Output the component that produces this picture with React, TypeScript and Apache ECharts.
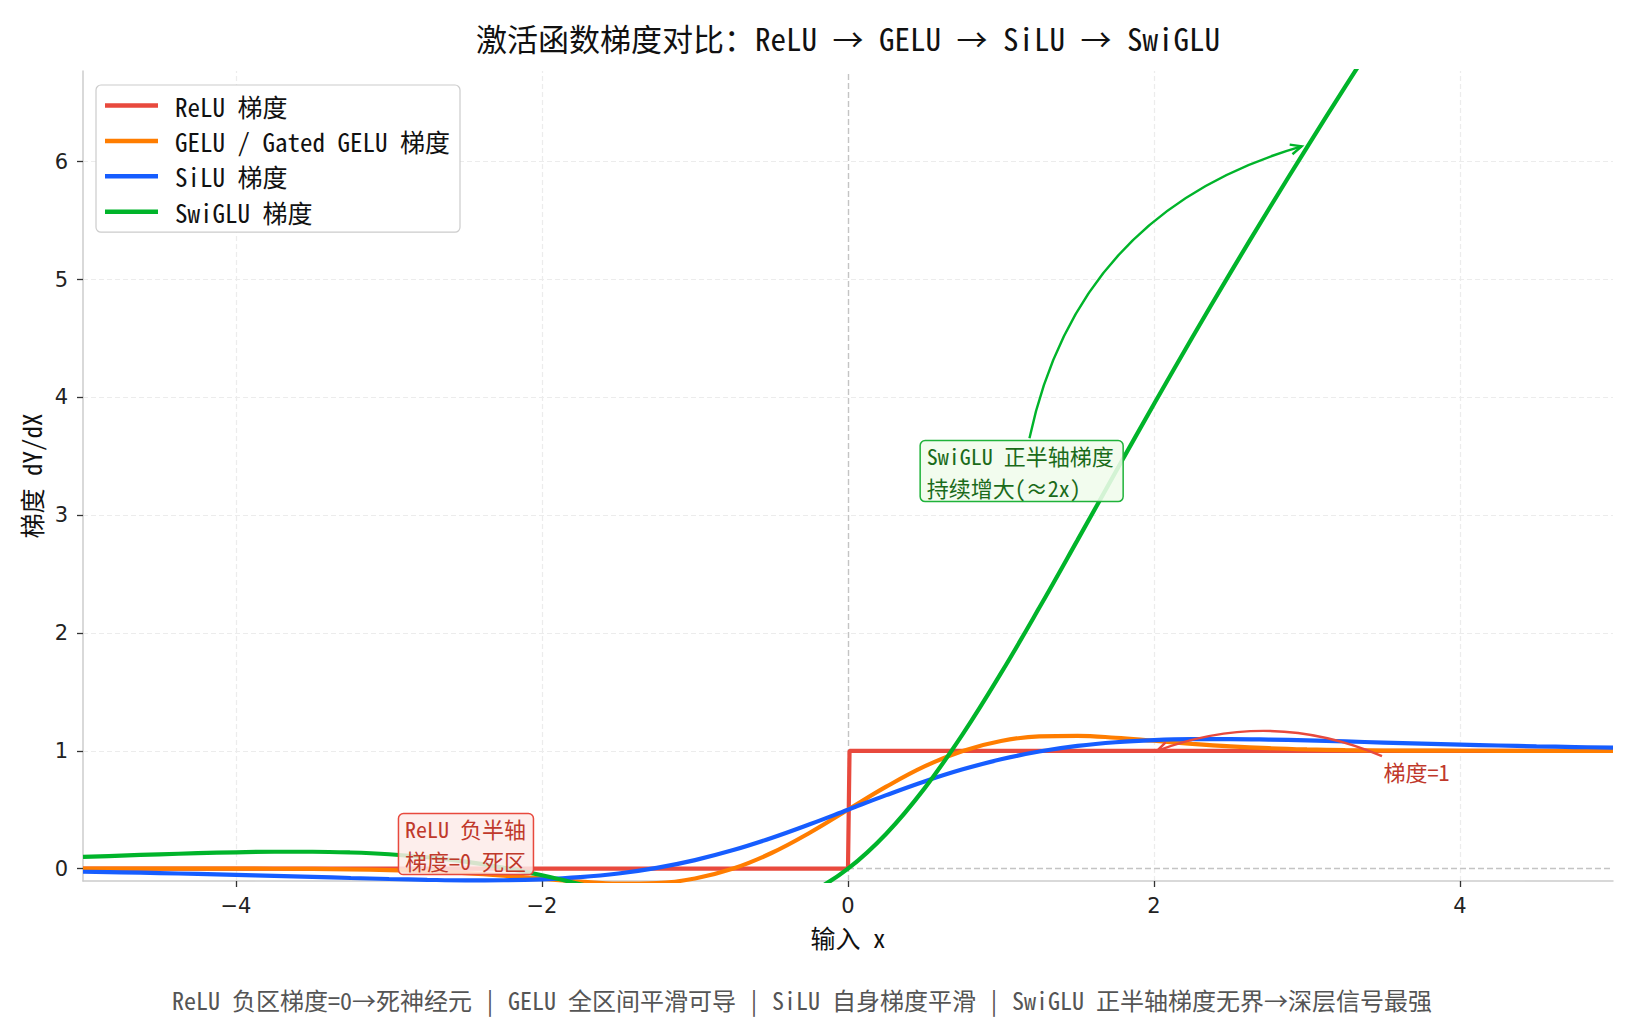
import React, { useEffect, useRef } from 'react';
import * as echarts from 'echarts';

// ---- data ----
const X = [-5, -4.75, -4.5, -4.25, -4, -3.75, -3.5, -3.25, -3, -2.75, -2.5, -2.25, -2, -1.75, -1.5, -1.25, -1, -0.75, -0.5, -0.25, 0,
  0.25, 0.5, 0.75, 1, 1.25, 1.5, 1.75, 2, 2.25, 2.5, 2.75, 3, 3.25, 3.5, 3.75, 4, 4.25, 4.5, 4.75, 5];

const GELU_GRAD = [0, 0, -0.0001, -0.0002, -0.0005, -0.0012, -0.0028, -0.006, -0.0119, -0.022, -0.0376, -0.0592, -0.0852, -0.1109, -0.1275, -0.1227, -0.0833, 0.0008, 0.1325, 0.3046, 0.5,
  0.6954, 0.8675, 0.9992, 1.0833, 1.1227, 1.1275, 1.1109, 1.0852, 1.0592, 1.0376, 1.022, 1.0119, 1.006, 1.0028, 1.0012, 1.0005, 1.0002, 1.0001, 1.0, 1.0];

const SILU_GRAD = [-0.0265, -0.0318, -0.0379, -0.0449, -0.0527, -0.0612, -0.0703, -0.0795, -0.0881, -0.0952, -0.0994, -0.0987, -0.0908, -0.0727, -0.0413, 0.0063, 0.0723, 0.1574, 0.26, 0.3763, 0.5,
  0.6237, 0.74, 0.8426, 0.9277, 0.9937, 1.0413, 1.0727, 1.0908, 1.0987, 1.0994, 1.0952, 1.0881, 1.0795, 1.0703, 1.0612, 1.0527, 1.0449, 1.0379, 1.0318, 1.0265];

const SWIGLU_GRAD = [0.0992, 0.1104, 0.1212, 0.1309, 0.1387, 0.1434, 0.1434, 0.1369, 0.1221, 0.0966, 0.0589, 0.0076, -0.0568, -0.1319, -0.2117, -0.2863, -0.3413, -0.3587, -0.3188, -0.2035, 0,
  0.2965, 0.6812, 1.1413, 1.6587, 2.2137, 2.7883, 3.3681, 3.9432, 4.5076, 5.0589, 5.5966, 6.1221, 6.6369, 7.1434, 7.6434, 8.1387, 8.6309, 9.1212, 9.6104, 10.0992];

const RELU_X = [-5, 0, 0.01, 5];
const RELU_GRAD = [0, 0, 1, 1];

const X_TICKS = [-4, -2, 0, 2, 4];
const Y_TICKS = [0, 1, 2, 3, 4, 5, 6];

const SERIES_NAMES = ['ReLU 梯度', 'GELU / Gated GELU 梯度', 'SiLU 梯度', 'SwiGLU 梯度'];
const COLORS = ['#e8493d', '#ff7d00', '#165dff', '#00b42a'];

const TITLE = '激活函数梯度对比：ReLU → GELU → SiLU → SwiGLU';
const FOOTER = 'ReLU 负区梯度=0→死神经元 | GELU 全区间平滑可导 | SiLU 自身梯度平滑 | SwiGLU 正半轴梯度无界→深层信号最强';

// annotation anchors (data coordinates)
const RED_BOX_LINES = ['ReLU 负半轴', '梯度=0 死区'];
const RED_BOX_CENTER = [-2.497, 0.208];
const GREEN_BOX_LINES = ['SwiGLU 正半轴梯度', '持续增大(≈2x)'];
const GREEN_BOX_CENTER = [1.135, 3.374];
const ONE_TEXT = '梯度=1';
const ONE_AT = [3.5, 0.825];
const RED_ARROW = { from: [3.49, 0.955], to: [2.02, 1.0], curveness: -0.2 };
const GREEN_ARROW = { from: [1.186, 3.653], to: [2.965, 6.13], curveness: 0.3 };

const FONT = "'Noto Sans Mono CJK SC', 'Noto Sans CJK SC', sans-serif";
const TICK_FONT = "'DejaVu Sans', sans-serif";

const fmt = (v: number) => (v < 0 ? '\u2212' + Math.abs(v) : String(v));

export default function App() {
  const ref = useRef<HTMLDivElement>(null);
  useEffect(() => {
    if (!ref.current) return;
    const chart = echarts.init(ref.current, null, { renderer: 'svg' });
    const gridLine = (color: string, w: number, dash: number[]) => ({ color, width: w, type: dash });
    const option: any = {
      animation: false,
      backgroundColor: '#ffffff',
      grid: { left: 83, right: 22, top: 71, bottom: 151, containLabel: false },
      legend: {
        data: SERIES_NAMES,
        orient: 'vertical',
        left: 96,
        top: 85,
        padding: [8, 10, 8, 9],
        itemGap: 10.4,
        itemWidth: 53,
        itemHeight: 4.5,
        icon: 'rect',
        backgroundColor: '#ffffff',
        borderColor: '#cccccc',
        borderWidth: 1.2,
        borderRadius: 5,
        selectedMode: false,
        textStyle: { fontFamily: FONT, fontSize: 25, color: '#111111', lineHeight: 25, padding: [0, 0, 0, 12] },
      },
      xAxis: {
        type: 'value', min: -5, max: 5,
        name: '输入 x', nameLocation: 'middle', nameGap: 43,
        nameTextStyle: { fontFamily: FONT, fontSize: 25, color: '#111111' },
        axisLine: { show: true, onZero: false, lineStyle: { color: '#cccccc', width: 1.5 } },
        axisTick: { show: true, customValues: X_TICKS, length: 6, lineStyle: { color: '#333333', width: 1.3 } },
        axisLabel: { customValues: X_TICKS, formatter: fmt, fontFamily: TICK_FONT, fontSize: 21, color: '#222222', margin: 14 },
        splitLine: { show: false },
      },
      yAxis: {
        type: 'value', min: -0.105, max: 6.77,
        name: '梯度 dY/dX', nameLocation: 'middle', nameGap: 32, nameRotate: 90,
        nameTextStyle: { fontFamily: FONT, fontSize: 25, color: '#111111' },
        axisLine: { show: true, onZero: false, lineStyle: { color: '#cccccc', width: 1.5 } },
        axisTick: { show: true, customValues: Y_TICKS, length: 6, lineStyle: { color: '#333333', width: 1.3 } },
        axisLabel: { customValues: Y_TICKS, formatter: fmt, fontFamily: TICK_FONT, fontSize: 21, color: '#222222', margin: 15 },
        splitLine: { show: false },
      },
      series: [
        {
          type: 'line', name: '_grid', data: [], z: 0, silent: true,
          markLine: {
            z: 0, silent: true, symbol: ['none', 'none'], label: { show: false },
            emphasis: { disabled: true },
            data: [
              ...X_TICKS.map((v) => ({ xAxis: v, lineStyle: v === 0 ? gridLine('#c4c4c4', 1.4, [6, 3]) : gridLine('#ececec', 1.2, [5, 3]) })),
              ...Y_TICKS.map((v) => ({ yAxis: v, lineStyle: v === 0 ? gridLine('#c4c4c4', 1.4, [6, 3]) : gridLine('#ececec', 1.2, [5, 3]) })),
            ],
          },
        },
        {
          type: 'line', name: SERIES_NAMES[0], z: 2, showSymbol: false, smooth: false,
          color: COLORS[0], lineStyle: { width: 4.2, color: COLORS[0] },
          data: RELU_X.map((x, i) => [x, RELU_GRAD[i]]),
        },
        {
          type: 'line', name: SERIES_NAMES[1], z: 2, showSymbol: false, smooth: 0.4,
          color: COLORS[1], lineStyle: { width: 4.2, color: COLORS[1] },
          data: X.map((x, i) => [x, GELU_GRAD[i]]),
        },
        {
          type: 'line', name: SERIES_NAMES[2], z: 2, showSymbol: false, smooth: 0.4,
          color: COLORS[2], lineStyle: { width: 4.2, color: COLORS[2] },
          data: X.map((x, i) => [x, SILU_GRAD[i]]),
        },
        {
          type: 'line', name: SERIES_NAMES[3], z: 2, showSymbol: false, smooth: 0.4,
          color: COLORS[3], lineStyle: { width: 4.2, color: COLORS[3] },
          data: X.map((x, i) => [x, SWIGLU_GRAD[i]]),
        },
      ],
    };
    chart.setOption(option);

    const px = (p: number[]) => chart.convertToPixel({ xAxisIndex: 0, yAxisIndex: 0 }, p) as number[];

    const arrow = (a: { from: number[]; to: number[]; curveness: number }, color: string) => {
      const p1 = px(a.from);
      const p2 = px(a.to);
      const c = a.curveness;
      const cpx = (p1[0] + p2[0]) / 2 - (p1[1] - p2[1]) * c;
      const cpy = (p1[1] + p2[1]) / 2 - (p2[0] - p1[0]) * c;
      let dx = p2[0] - cpx;
      let dy = p2[1] - cpy;
      const len = Math.hypot(dx, dy) || 1;
      dx /= len; dy /= len;
      const L = 11, W = 5;
      const bx = p2[0] - dx * L, by = p2[1] - dy * L;
      return [
        {
          type: 'bezierCurve', z: 15, silent: true,
          shape: { x1: p1[0], y1: p1[1], x2: p2[0], y2: p2[1], cpx1: cpx, cpy1: cpy },
          style: { stroke: color, lineWidth: 2.4, fill: null },
        },
        {
          type: 'polyline', z: 15, silent: true,
          shape: { points: [[bx - dy * W, by + dx * W], [p2[0], p2[1]], [bx + dy * W, by - dx * W]] },
          style: { stroke: color, lineWidth: 2.4, fill: null, lineJoin: 'miter' },
        },
      ];
    };

    const box = (lines: string[], center: number[], w: number, textColor: string, bg: string, border: string) => {
      const c = px(center);
      const h = 61;
      const gap = 32;
      return [
        {
          type: 'rect', z: 20, silent: true,
          shape: { x: c[0] - w / 2, y: c[1] - h / 2, width: w, height: h, r: 5 },
          style: { fill: bg, stroke: border, lineWidth: 1.5 },
        },
        ...lines.map((t, i) => ({
          type: 'text', z: 21, silent: true,
          x: c[0] - w / 2 + 6.5, y: c[1] + (i - 0.5) * gap,
          style: { text: t, fontFamily: FONT, fontSize: 22, fill: textColor, align: 'left', verticalAlign: 'middle' },
        })),
      ];
    };

    const one = px(ONE_AT);
    chart.setOption({
      graphic: [
        { type: 'text', x: 848, y: 37, z: 10, style: { text: TITLE, fontFamily: FONT, fontSize: 31, fill: '#111111', align: 'center', verticalAlign: 'middle' } },
        { type: 'text', x: 802, y: 999, z: 10, style: { text: FOOTER, fontFamily: FONT, fontSize: 24, fill: '#555555', align: 'center', verticalAlign: 'middle' } },
        ...arrow(RED_ARROW, '#e8493d'),
        ...arrow(GREEN_ARROW, '#00b42a'),
        ...box(RED_BOX_LINES, RED_BOX_CENTER, 135, '#c0392b', 'rgba(253,235,233,0.85)', '#e8493d'),
        ...box(GREEN_BOX_LINES, GREEN_BOX_CENTER, 203, '#1a6b1a', 'rgba(240,252,236,0.88)', '#1fb23a'),
        {
          type: 'text', x: one[0], y: one[1], z: 20,
          style: { text: ONE_TEXT, fontFamily: FONT, fontSize: 22, fill: '#c0392b', align: 'left', verticalAlign: 'middle' },
        },
      ],
    });
    return () => chart.dispose();
  }, []);
  return <div ref={ref} style={{ position: 'fixed', left: 0, top: 0, width: 1635, height: 1032, background: '#fff' }} />;
}
